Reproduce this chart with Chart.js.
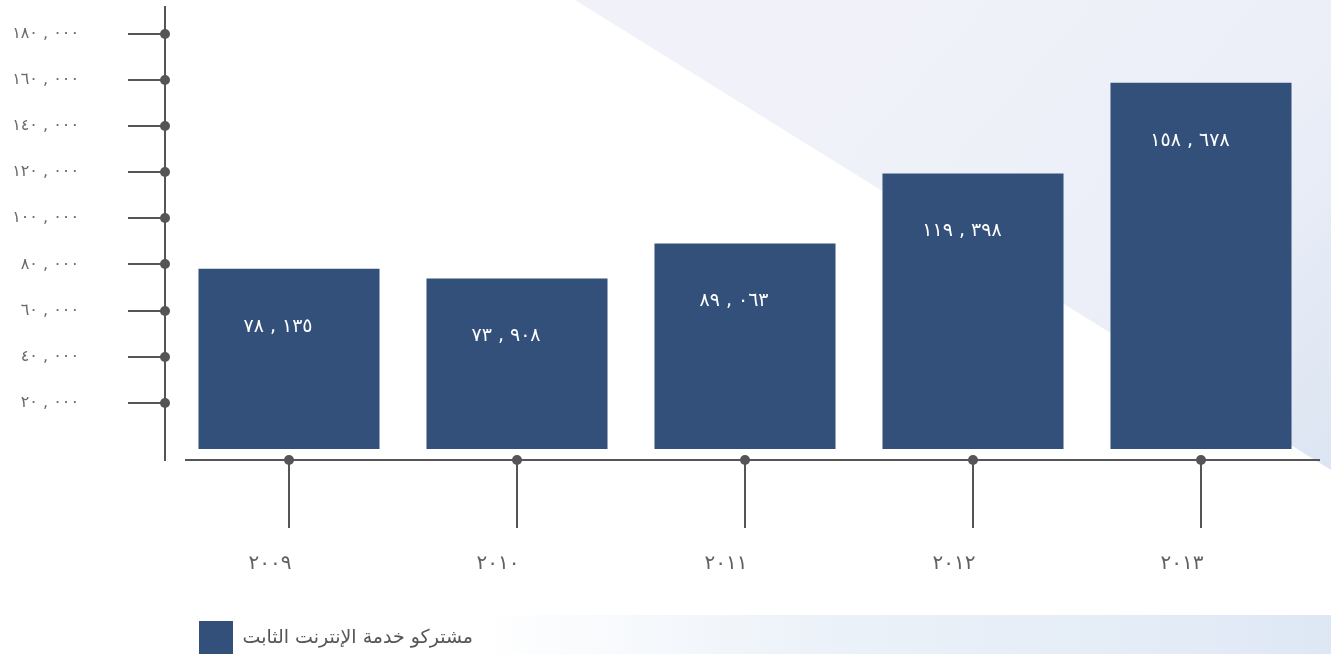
<!DOCTYPE html>
<html lang="ar">
<head>
<meta charset="utf-8">
<script src="https://cdn.jsdelivr.net/npm/chart.js@4.4.0/dist/chart.umd.min.js"></script>
<style>
  html, body { margin: 0; padding: 0; background: #ffffff; }
  canvas { display: block; }
</style>
</head>
<body>
<canvas id="chart" width="1331" height="654"></canvas>
<script>
// Fixed broadband subscribers per year
const years = [2009, 2010, 2011, 2012, 2013];
const subscribers = [78135, 73908, 89063, 119398, 158678];
const yTickValues = [20000, 40000, 60000, 80000, 100000, 120000, 140000, 160000, 180000];
const seriesLabel = 'مشتركو خدمة الإنترنت الثابت';

const FONT = "'DejaVu Sans', sans-serif";
const AXIS_COLOR = '#555555';
const BAR_COLOR = '#33507a';

const AR_DIGITS = '٠١٢٣٤٥٦٧٨٩';
function toArabicDigits(s) {
  return String(s).replace(/[0-9]/g, d => AR_DIGITS[d]);
}
// Arabic-Indic digits with a spaced comma; the LRM keeps the groups in reading order
function formatNumber(n) {
  return Math.round(n).toLocaleString('en-US').split(',')
    .map(toArabicDigits).join('\u200E , ');
}

// Soft watermark-like background shapes
const backgroundPlugin = {
  id: 'pageBackground',
  beforeDraw(chart) {
    const { ctx, width, height } = chart;
    ctx.save();
    ctx.fillStyle = '#ffffff';
    ctx.fillRect(0, 0, width, height);

    const g = ctx.createLinearGradient(800, 0, 1331, 470);
    g.addColorStop(0, '#f1f2f9');
    g.addColorStop(0.6, '#eceff8');
    g.addColorStop(1, '#dce5f2');
    ctx.fillStyle = g;
    ctx.beginPath();
    ctx.moveTo(575, 0);
    ctx.lineTo(width, 0);
    ctx.lineTo(width, 470);
    ctx.closePath();
    ctx.fill();

    const b = ctx.createLinearGradient(480, 0, width, 0);
    b.addColorStop(0, 'rgba(228,236,246,0)');
    b.addColorStop(0.4, 'rgba(228,236,246,0.7)');
    b.addColorStop(1, 'rgba(222,232,245,1)');
    ctx.fillStyle = b;
    ctx.fillRect(480, 615, width - 480, height - 615);
    ctx.restore();
  }
};

// Axis lines, tick stems and round joints
const axisPlugin = {
  id: 'axisDecor',
  afterDraw(chart) {
    const { ctx, chartArea, scales: { x, y } } = chart;
    const axisX = chartArea.left - 10;
    const baseY = chartArea.bottom;
    ctx.save();
    ctx.strokeStyle = AXIS_COLOR;
    ctx.fillStyle = AXIS_COLOR;
    ctx.lineWidth = 2;
    const line = (x1, y1, x2, y2) => {
      ctx.beginPath(); ctx.moveTo(x1, y1); ctx.lineTo(x2, y2); ctx.stroke();
    };
    const dot = (cx, cy) => {
      ctx.beginPath(); ctx.arc(cx, cy, 5, 0, Math.PI * 2); ctx.fill();
    };
    line(axisX, chartArea.top, axisX, baseY + 1);
    yTickValues.forEach(v => {
      const py = Math.round(y.getPixelForValue(v));
      line(axisX - 37, py, axisX, py);
      dot(axisX, py);
    });
    line(chartArea.left + 10, baseY, chartArea.right + 5, baseY);
    years.forEach((_, i) => {
      const px = Math.round(x.getPixelForValue(i));
      line(px, baseY, px, baseY + 68);
      dot(px, baseY);
    });
    ctx.restore();
  }
};

// Value printed inside the top part of each bar
const valueLabelPlugin = {
  id: 'valueLabels',
  afterDatasetsDraw(chart) {
    const { ctx } = chart;
    const meta = chart.getDatasetMeta(0);
    ctx.save();
    ctx.fillStyle = '#ffffff';
    ctx.font = '19px ' + FONT;
    ctx.textAlign = 'center';
    ctx.textBaseline = 'middle';
    meta.data.forEach((bar, i) => {
      ctx.fillText(formatNumber(subscribers[i]), bar.x - 11, bar.y + 58);
    });
    ctx.restore();
  }
};

new Chart(document.getElementById('chart'), {
  type: 'bar',
  data: {
    labels: years.map(String),
    datasets: [{
      label: seriesLabel,
      data: subscribers,
      backgroundColor: BAR_COLOR,
      borderWidth: 0,
      categoryPercentage: 1,
      barPercentage: 0.794
    }]
  },
  options: {
    responsive: false,
    animation: false,
    layout: { padding: { top: 6, right: 16, bottom: -11, left: 0 } },
    plugins: {
      tooltip: { enabled: false },
      legend: {
        position: 'bottom',
        align: 'start',
        fullSize: false,
        labels: {
          boxWidth: 34,
          boxHeight: 34,
          padding: 24,
          color: '#555555',
          font: { family: FONT, size: 19 }
        }
      }
    },
    scales: {
      x: {
        grid: { display: false, drawTicks: false },
        border: { display: false },
        ticks: {
          padding: 92,
          labelOffset: -19,
          color: '#606060',
          font: { family: FONT, size: 20 },
          callback: (v, i) => toArabicDigits(years[i])
        },
        afterFit: s => {
          s.height = 137;
          s.paddingLeft = 0;
          s.paddingRight = 0;
        }
      },
      y: {
        min: -4800,
        max: 192000,
        afterBuildTicks: s => { s.ticks = yTickValues.map(v => ({ value: v })); },
        grid: { display: false, drawTicks: false },
        border: { display: false },
        ticks: {
          padding: 96,
          color: '#6a6a6a',
          font: { family: FONT, size: 16 },
          callback: v => formatNumber(v)
        },
        afterFit: s => {
          s.width = 175;
          s.paddingTop = 0;
          s.paddingBottom = 0;
        }
      }
    }
  },
  plugins: [backgroundPlugin, axisPlugin, valueLabelPlugin]
});
</script>
</body>
</html>
